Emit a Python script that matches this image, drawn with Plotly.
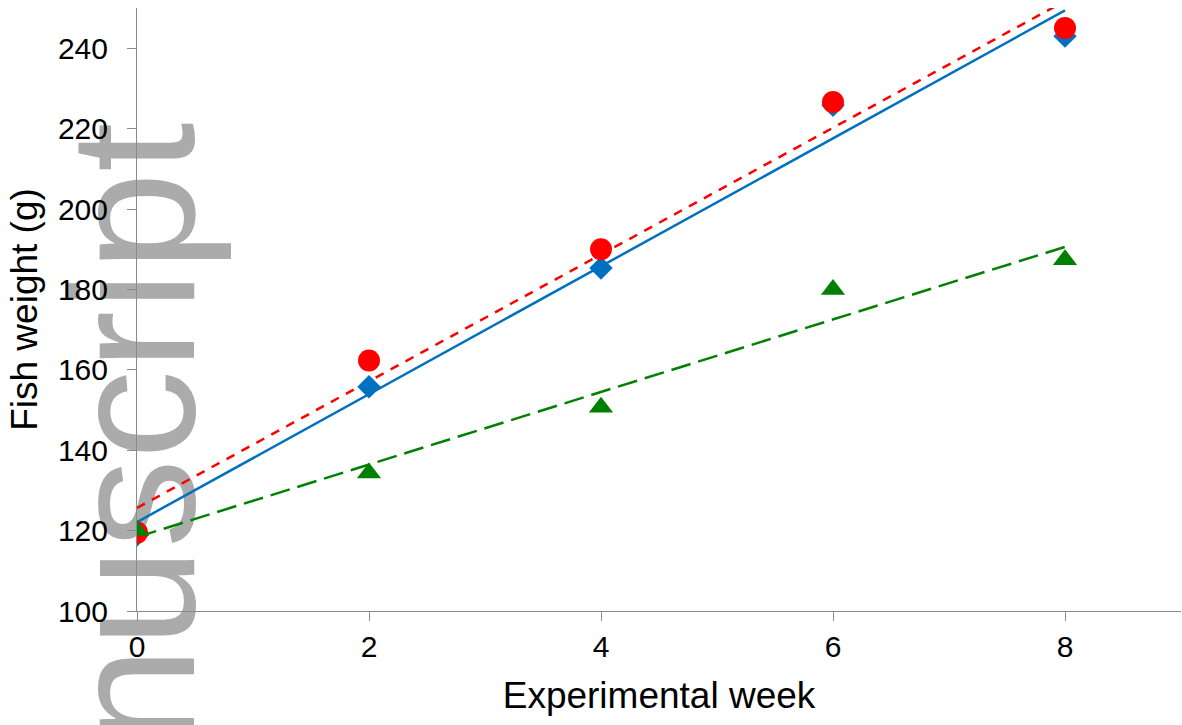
import numpy as np
import plotly.graph_objects as go

# ---- data ----
weeks = [0, 2, 4, 6, 8]
blue_weight = [118.9, 155.8, 185.3, 225.8, 243.0]
red_weight = [119.5, 162.3, 190.0, 226.6, 245.0]
green_weight = [120.0, 134.3, 150.7, 180.0, 187.4]

x_tick_vals = [0, 2, 4, 6, 8]
y_tick_vals = [100, 120, 140, 160, 180, 200, 220, 240]
x_title = "Experimental week"
y_title = "Fish weight (g)"
watermark = "Manuscript"

BLUE = "#0070C0"
RED = "#FF0000"
GREEN = "#008000"
AXIS = "#8a8a8a"
FONT = "Liberation Sans, Arial, Helvetica, sans-serif"


def trend(xs, ys):
    slope, intercept = np.polyfit(xs, ys, 1)
    xe = [min(xs), max(xs)]
    return xe, [intercept + slope * v for v in xe]


fig = go.Figure()

# trend lines
for ys, color, dash in [
    (blue_weight, BLUE, "solid"),
    (red_weight, RED, "9px,8px"),
    (green_weight, GREEN, "20px,8px"),
]:
    tx, ty = trend(weeks, ys)
    fig.add_trace(go.Scatter(x=tx, y=ty, mode="lines",
                             line=dict(color=color, width=2.5, dash=dash),
                             hoverinfo="skip", showlegend=False))

# markers
fig.add_trace(go.Scatter(x=weeks, y=blue_weight, mode="markers",
                         marker=dict(symbol="diamond", size=18, color=BLUE),
                         showlegend=False))
fig.add_trace(go.Scatter(x=weeks, y=red_weight, mode="markers",
                         marker=dict(symbol="circle", size=22, color=RED),
                         showlegend=False))
fig.add_trace(go.Scatter(x=weeks, y=green_weight, mode="markers",
                         marker=dict(symbol="triangle-up", size=21, color=GREEN),
                         showlegend=False))

# watermark, drawn beneath everything
fig.add_shape(type="rect", xref="paper", yref="paper",
              x0=-0.034, x1=-0.008, y0=0.068, y1=0.108,
              line=dict(width=0), fillcolor="rgba(0,0,0,0)", layer="below",
              label=dict(text=watermark, textangle=-90,
                         textposition="middle center",
                         font=dict(size=178, color="#ababab", family=FONT)))

fig.update_layout(
    width=1182, height=725,
    margin=dict(l=137, r=1, t=8, b=114),
    paper_bgcolor="white", plot_bgcolor="white",
    showlegend=False,
    font=dict(family=FONT, color="black"),
    xaxis=dict(range=[0, 9], tickvals=x_tick_vals, showgrid=False, zeroline=False,
               showline=True, linecolor=AXIS, linewidth=1,
               ticks="outside", ticklen=9, tickcolor=AXIS, tickwidth=1,
               tickfont=dict(size=30, family=FONT, color="black"),
               title=dict(text=x_title, font=dict(size=37, family=FONT, color="black"),
                          standoff=20)),
    yaxis=dict(range=[100, 250], tickvals=y_tick_vals, showgrid=False, zeroline=False,
               showline=True, linecolor=AXIS, linewidth=1,
               ticks="outside", ticklen=9, tickcolor=AXIS, tickwidth=1,
               ticklabelstandoff=13,
               tickfont=dict(size=30, family=FONT, color="black"),
               title=dict(text=y_title, font=dict(size=37, family=FONT, color="black"),
                          standoff=8)),
)

# remove the page's default body margin so the figure fills the window exactly
fig.write_html(
    "out.html",
    config={"displayModeBar": False},
    post_script="document.body.style.margin='0';document.body.style.overflow='hidden';",
)
